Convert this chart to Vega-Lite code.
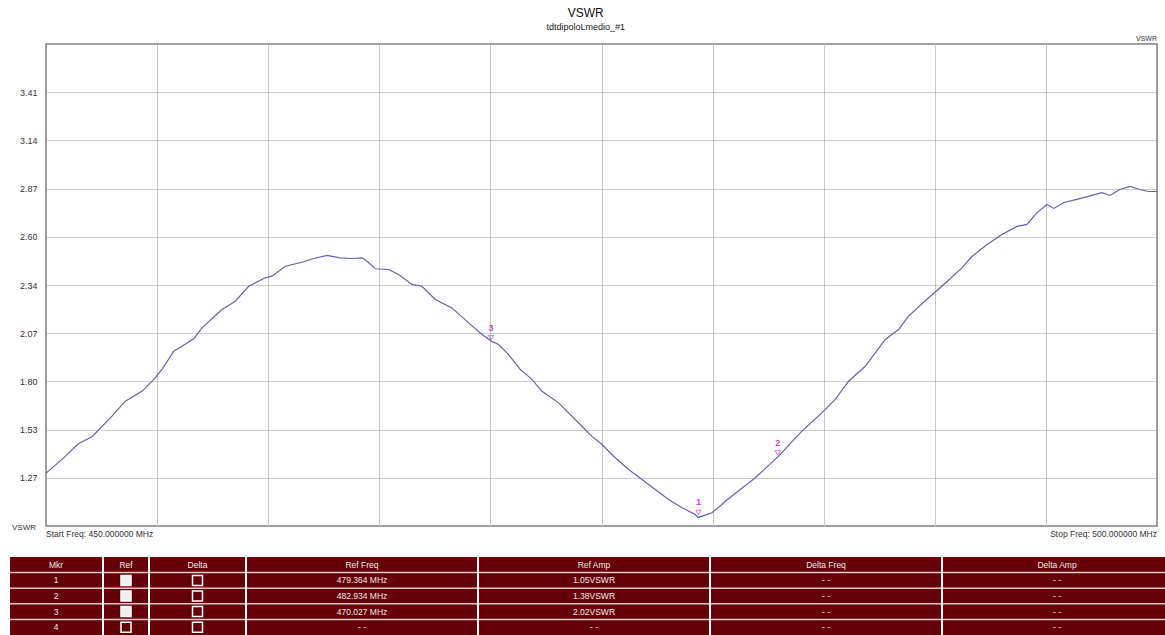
{
  "$schema": "https://vega.github.io/schema/vega-lite/v6.json",
  "padding": {"left": 9, "top": 6, "right": 0, "bottom": 0},
  "background": "#ffffff",
  "config": {"font": "Liberation Sans", "view": {"stroke": "#808080", "strokeWidth": 1.5}},
  "datasets": {
    "curve": [
      {"f":450.0,"v":1.296},{"f":450.72,"v":1.372},{"f":451.47,"v":1.46},{"f":452.07,"v":1.498},{"f":452.97,"v":1.612},{"f":453.57,"v":1.695},{"f":454.32,"v":1.75},{"f":454.85,"v":1.816},{"f":455.22,"v":1.871},{"f":455.75,"v":1.973},{"f":456.12,"v":2.0},{"f":456.65,"v":2.041},{"f":457.02,"v":2.102},{"f":457.92,"v":2.204},{"f":458.52,"v":2.25},{"f":459.12,"v":2.333},{"f":459.87,"v":2.38},{"f":460.17,"v":2.389},{"f":460.77,"v":2.444},{"f":461.52,"v":2.466},{"f":462.05,"v":2.487},{"f":462.65,"v":2.504},{"f":463.24,"v":2.491},{"f":463.77,"v":2.487},{"f":464.22,"v":2.491},{"f":464.45,"v":2.472},{"f":464.82,"v":2.43},{"f":465.42,"v":2.426},{"f":465.87,"v":2.398},{"f":466.47,"v":2.343},{"f":466.92,"v":2.333},{"f":467.52,"v":2.26},{"f":468.27,"v":2.213},{"f":469.02,"v":2.13},{"f":469.62,"v":2.065},{"f":470.03,"v":2.03},{"f":470.37,"v":2.01},{"f":470.82,"v":1.954},{"f":471.35,"v":1.871},{"f":471.87,"v":1.816},{"f":472.32,"v":1.75},{"f":473.07,"v":1.686},{"f":473.6,"v":1.621},{"f":474.12,"v":1.556},{"f":474.57,"v":1.5},{"f":475.02,"v":1.455},{"f":475.62,"v":1.381},{"f":476.22,"v":1.316},{"f":476.82,"v":1.261},{"f":477.42,"v":1.205},{"f":478.02,"v":1.15},{"f":478.62,"v":1.104},{"f":479.22,"v":1.066},{"f":479.36,"v":1.05},{"f":479.97,"v":1.076},{"f":480.42,"v":1.122},{"f":480.57,"v":1.14},{"f":481.92,"v":1.27},{"f":482.97,"v":1.39},{"f":484.02,"v":1.529},{"f":484.92,"v":1.63},{"f":485.52,"v":1.705},{"f":486.12,"v":1.806},{"f":486.87,"v":1.889},{"f":487.77,"v":2.038},{"f":488.37,"v":2.093},{"f":488.82,"v":2.167},{"f":489.72,"v":2.269},{"f":490.32,"v":2.333},{"f":491.22,"v":2.435},{"f":491.67,"v":2.498},{"f":492.35,"v":2.565},{"f":493.02,"v":2.62},{"f":493.7,"v":2.665},{"f":494.15,"v":2.676},{"f":494.6,"v":2.742},{"f":495.05,"v":2.787},{"f":495.36,"v":2.765},{"f":495.81,"v":2.798},{"f":496.4,"v":2.815},{"f":497.07,"v":2.837},{"f":497.52,"v":2.853},{"f":497.88,"v":2.837},{"f":498.33,"v":2.87},{"f":498.78,"v":2.887},{"f":499.23,"v":2.87},{"f":499.6,"v":2.859},{"f":500.0,"v":2.859}
    ],
    "markers": [
      {"mkr":"1","f":479.364,"v":1.05},
      {"mkr":"2","f":482.934,"v":1.38},
      {"mkr":"3","f":470.027,"v":2.02}
    ],
    "tbl": [
      {"col":"Mkr","row":"h","label":"Mkr"},{"col":"Mkr","row":"1","label":"1"},{"col":"Mkr","row":"2","label":"2"},{"col":"Mkr","row":"3","label":"3"},{"col":"Mkr","row":"4","label":"4"},
      {"col":"Ref","row":"h","label":"Ref"},{"col":"Ref","row":"1","label":"","checked":"yes"},{"col":"Ref","row":"2","label":"","checked":"yes"},{"col":"Ref","row":"3","label":"","checked":"yes"},{"col":"Ref","row":"4","label":"","checked":"no"},
      {"col":"Delta","row":"h","label":"Delta"},{"col":"Delta","row":"1","label":"","checked":"no"},{"col":"Delta","row":"2","label":"","checked":"no"},{"col":"Delta","row":"3","label":"","checked":"no"},{"col":"Delta","row":"4","label":"","checked":"no"},
      {"col":"Ref Freq","row":"h","label":"Ref Freq"},{"col":"Ref Freq","row":"1","label":"479.364 MHz"},{"col":"Ref Freq","row":"2","label":"482.934 MHz"},{"col":"Ref Freq","row":"3","label":"470.027 MHz"},{"col":"Ref Freq","row":"4","label":"- -"},
      {"col":"Ref Amp","row":"h","label":"Ref Amp"},{"col":"Ref Amp","row":"1","label":"1.05VSWR"},{"col":"Ref Amp","row":"2","label":"1.38VSWR"},{"col":"Ref Amp","row":"3","label":"2.02VSWR"},{"col":"Ref Amp","row":"4","label":"- -"},
      {"col":"Delta Freq","row":"h","label":"Delta Freq"},{"col":"Delta Freq","row":"1","label":"- -"},{"col":"Delta Freq","row":"2","label":"- -"},{"col":"Delta Freq","row":"3","label":"- -"},{"col":"Delta Freq","row":"4","label":"- -"},
      {"col":"Delta Amp","row":"h","label":"Delta Amp"},{"col":"Delta Amp","row":"1","label":"- -"},{"col":"Delta Amp","row":"2","label":"- -"},{"col":"Delta Amp","row":"3","label":"- -"},{"col":"Delta Amp","row":"4","label":"- -"}
    ]
  },
  "columns": 1,
  "spacing": 17,
  "concat": [
    {
      "spacing": 0,
      "hconcat": [
        {
          "width": 1, "height": 482, "view": {"stroke": null},
          "data": {"values": []},
          "mark": {"type": "point", "opacity": 0}
        },
        {
          "width": 1111,
          "height": 482,
          "title": {"text": "VSWR", "subtitle": "tdtdipoloLmedio_#1", "frame": "bounds", "anchor": "middle", "fontSize": 12, "fontWeight": "normal", "subtitleFontSize": 9, "subtitlePadding": 3, "offset": 2, "color": "#111111", "subtitleColor": "#222222", "font": "Liberation Sans", "subtitleFont": "Liberation Sans"},
          "layer": [
            {
              "data": {"name": "curve"},
              "mark": {"type": "line", "color": "#6262b0", "strokeWidth": 1.2},
              "encoding": {
                "x": {"field": "f", "type": "quantitative", "scale": {"domain": [450, 500], "nice": false, "zero": false},
                      "axis": {"values": [455, 460, 465, 470, 475, 480, 485, 490, 495], "labels": false, "ticks": false, "domain": false, "title": null, "gridColor": "#c8c8c8", "gridWidth": 1}},
                "y": {"field": "v", "type": "quantitative", "scale": {"domain": [1.0025, 3.6775], "nice": false, "zero": false},
                      "axis": {"values": [1.27, 1.5375, 1.805, 2.0725, 2.34, 2.6075, 2.875, 3.1425, 3.41], "labelExpr": "format(floor(datum.value*100+0.000001)/100, '.2f')", "title": null, "ticks": false, "domain": false, "labelPadding": 9, "labelFontSize": 9, "labelColor": "#333333", "gridColor": "#9a9a9a", "gridDash": [1, 1], "gridWidth": 1}}
              }
            },
            {
              "data": {"name": "markers"},
              "mark": {"type": "point", "shape": "triangle-down", "filled": false, "color": "#cc3fcc", "size": 28, "strokeWidth": 1, "yOffset": -5},
              "encoding": {"x": {"field": "f", "type": "quantitative"}, "y": {"field": "v", "type": "quantitative"}}
            },
            {
              "data": {"name": "markers"},
              "mark": {"type": "text", "color": "#cc3fcc", "fontSize": 9, "fontWeight": "bold", "dy": -15},
              "encoding": {"x": {"field": "f", "type": "quantitative"}, "y": {"field": "v", "type": "quantitative"}, "text": {"field": "mkr"}}
            },
            {
              "data": {"values": [{}]},
              "mark": {"type": "text", "text": "VSWR", "align": "right", "baseline": "bottom", "dy": -2, "fontSize": 7, "color": "#333333"},
              "encoding": {"x": {"datum": 500}, "y": {"datum": 3.6775}}
            },
            {
              "data": {"values": [{}]},
              "mark": {"type": "text", "text": "VSWR", "align": "right", "baseline": "middle", "dx": -10, "dy": 2, "fontSize": 8, "color": "#333333"},
              "encoding": {"x": {"datum": 450}, "y": {"datum": 1.0025}}
            },
            {
              "data": {"values": [{}]},
              "mark": {"type": "text", "text": "Start Freq: 450.000000 MHz", "align": "left", "baseline": "top", "dy": 4, "fontSize": 8.5, "color": "#333333"},
              "encoding": {"x": {"datum": 450}, "y": {"datum": 1.0025}}
            },
            {
              "data": {"values": [{}]},
              "mark": {"type": "text", "text": "Stop Freq: 500.000000 MHz", "align": "right", "baseline": "top", "dy": 4, "fontSize": 8.5, "color": "#333333"},
              "encoding": {"x": {"datum": 500}, "y": {"datum": 1.0025}}
            }
          ]
        }
      ]
    },
    {
      "spacing": 0,
      "hconcat": [
        {
          "width": 92, "height": 78, "view": {"fill": "#650008", "stroke": null},
          "data": {"name": "tbl"}, "transform": [{"filter": "datum.col === 'Mkr'"}],
          "layer": [
            {"transform": [{"filter": "datum.row !== 'h'"}], "mark": {"type": "rule", "color": "#e6c6c6", "strokeWidth": 1.5},
             "encoding": {"y": {"field": "row", "type": "ordinal", "bandPosition": 0, "scale": {"type": "band", "domain": ["h","1","2","3","4"], "paddingInner": 0, "paddingOuter": 0}, "axis": null}}},
            {"mark": {"type": "text", "color": "#f2e8e8", "fontSize": 8.5},
             "encoding": {"y": {"field": "row", "type": "ordinal", "bandPosition": 0.5, "scale": {"type": "band", "domain": ["h","1","2","3","4"], "paddingInner": 0, "paddingOuter": 0}, "axis": null}, "text": {"field": "label"}}}
          ]
        },
        {
          "width": 44, "height": 78, "view": {"fill": "#650008", "stroke": null},
          "data": {"name": "tbl"}, "transform": [{"filter": "datum.col === 'Ref'"}],
          "layer": [
            {"transform": [{"filter": "datum.row !== 'h'"}], "mark": {"type": "rule", "color": "#e6c6c6", "strokeWidth": 1.5},
             "encoding": {"y": {"field": "row", "type": "ordinal", "bandPosition": 0, "scale": {"type": "band", "domain": ["h","1","2","3","4"], "paddingInner": 0, "paddingOuter": 0}, "axis": null}}},
            {"transform": [{"filter": "datum.row === 'h'"}], "mark": {"type": "text", "color": "#f2e8e8", "fontSize": 8.5},
             "encoding": {"y": {"field": "row", "type": "ordinal", "bandPosition": 0.5, "scale": {"type": "band", "domain": ["h","1","2","3","4"], "paddingInner": 0, "paddingOuter": 0}, "axis": null}, "text": {"field": "label"}}},
            {"transform": [{"filter": "datum.row !== 'h'"}], "mark": {"type": "point", "shape": "square", "filled": true, "size": 100, "strokeWidth": 1.5, "opacity": 1},
             "encoding": {"y": {"field": "row", "type": "ordinal", "bandPosition": 0.5, "scale": {"type": "band", "domain": ["h","1","2","3","4"], "paddingInner": 0, "paddingOuter": 0}, "axis": null},
                          "fill": {"field": "checked", "type": "nominal", "scale": {"domain": ["yes","no"], "range": ["#eeeeee", "#650008"]}, "legend": null},
                          "stroke": {"field": "checked", "type": "nominal", "scale": {"domain": ["yes","no"], "range": ["#ffffff", "#ffffff"]}, "legend": null}}}
          ]
        },
        {
          "width": 95, "height": 78, "view": {"fill": "#650008", "stroke": null},
          "data": {"name": "tbl"}, "transform": [{"filter": "datum.col === 'Delta'"}],
          "layer": [
            {"transform": [{"filter": "datum.row !== 'h'"}], "mark": {"type": "rule", "color": "#e6c6c6", "strokeWidth": 1.5},
             "encoding": {"y": {"field": "row", "type": "ordinal", "bandPosition": 0, "scale": {"type": "band", "domain": ["h","1","2","3","4"], "paddingInner": 0, "paddingOuter": 0}, "axis": null}}},
            {"transform": [{"filter": "datum.row === 'h'"}], "mark": {"type": "text", "color": "#f2e8e8", "fontSize": 8.5},
             "encoding": {"y": {"field": "row", "type": "ordinal", "bandPosition": 0.5, "scale": {"type": "band", "domain": ["h","1","2","3","4"], "paddingInner": 0, "paddingOuter": 0}, "axis": null}, "text": {"field": "label"}}},
            {"transform": [{"filter": "datum.row !== 'h'"}], "mark": {"type": "point", "shape": "square", "filled": true, "size": 100, "strokeWidth": 1.5, "opacity": 1},
             "encoding": {"y": {"field": "row", "type": "ordinal", "bandPosition": 0.5, "scale": {"type": "band", "domain": ["h","1","2","3","4"], "paddingInner": 0, "paddingOuter": 0}, "axis": null},
                          "fill": {"field": "checked", "type": "nominal", "scale": {"domain": ["yes","no"], "range": ["#eeeeee", "#650008"]}, "legend": null},
                          "stroke": {"field": "checked", "type": "nominal", "scale": {"domain": ["yes","no"], "range": ["#ffffff", "#ffffff"]}, "legend": null}}}
          ]
        },
        {
          "width": 230, "height": 78, "view": {"fill": "#650008", "stroke": null},
          "data": {"name": "tbl"}, "transform": [{"filter": "datum.col === 'Ref Freq'"}],
          "layer": [
            {"transform": [{"filter": "datum.row !== 'h'"}], "mark": {"type": "rule", "color": "#e6c6c6", "strokeWidth": 1.5},
             "encoding": {"y": {"field": "row", "type": "ordinal", "bandPosition": 0, "scale": {"type": "band", "domain": ["h","1","2","3","4"], "paddingInner": 0, "paddingOuter": 0}, "axis": null}}},
            {"mark": {"type": "text", "color": "#f2e8e8", "fontSize": 8.5},
             "encoding": {"y": {"field": "row", "type": "ordinal", "bandPosition": 0.5, "scale": {"type": "band", "domain": ["h","1","2","3","4"], "paddingInner": 0, "paddingOuter": 0}, "axis": null}, "text": {"field": "label"}}}
          ]
        },
        {
          "width": 230, "height": 78, "view": {"fill": "#650008", "stroke": null},
          "data": {"name": "tbl"}, "transform": [{"filter": "datum.col === 'Ref Amp'"}],
          "layer": [
            {"transform": [{"filter": "datum.row !== 'h'"}], "mark": {"type": "rule", "color": "#e6c6c6", "strokeWidth": 1.5},
             "encoding": {"y": {"field": "row", "type": "ordinal", "bandPosition": 0, "scale": {"type": "band", "domain": ["h","1","2","3","4"], "paddingInner": 0, "paddingOuter": 0}, "axis": null}}},
            {"mark": {"type": "text", "color": "#f2e8e8", "fontSize": 8.5},
             "encoding": {"y": {"field": "row", "type": "ordinal", "bandPosition": 0.5, "scale": {"type": "band", "domain": ["h","1","2","3","4"], "paddingInner": 0, "paddingOuter": 0}, "axis": null}, "text": {"field": "label"}}}
          ]
        },
        {
          "width": 230, "height": 78, "view": {"fill": "#650008", "stroke": null},
          "data": {"name": "tbl"}, "transform": [{"filter": "datum.col === 'Delta Freq'"}],
          "layer": [
            {"transform": [{"filter": "datum.row !== 'h'"}], "mark": {"type": "rule", "color": "#e6c6c6", "strokeWidth": 1.5},
             "encoding": {"y": {"field": "row", "type": "ordinal", "bandPosition": 0, "scale": {"type": "band", "domain": ["h","1","2","3","4"], "paddingInner": 0, "paddingOuter": 0}, "axis": null}}},
            {"mark": {"type": "text", "color": "#f2e8e8", "fontSize": 8.5},
             "encoding": {"y": {"field": "row", "type": "ordinal", "bandPosition": 0.5, "scale": {"type": "band", "domain": ["h","1","2","3","4"], "paddingInner": 0, "paddingOuter": 0}, "axis": null}, "text": {"field": "label"}}}
          ]
        },
        {
          "width": 228, "height": 78, "view": {"fill": "#650008", "stroke": null},
          "data": {"name": "tbl"}, "transform": [{"filter": "datum.col === 'Delta Amp'"}],
          "layer": [
            {"transform": [{"filter": "datum.row !== 'h'"}], "mark": {"type": "rule", "color": "#e6c6c6", "strokeWidth": 1.5},
             "encoding": {"y": {"field": "row", "type": "ordinal", "bandPosition": 0, "scale": {"type": "band", "domain": ["h","1","2","3","4"], "paddingInner": 0, "paddingOuter": 0}, "axis": null}}},
            {"mark": {"type": "text", "color": "#f2e8e8", "fontSize": 8.5},
             "encoding": {"y": {"field": "row", "type": "ordinal", "bandPosition": 0.5, "scale": {"type": "band", "domain": ["h","1","2","3","4"], "paddingInner": 0, "paddingOuter": 0}, "axis": null}, "text": {"field": "label"}}}
          ]
        }
      ]
    }
  ]
}
